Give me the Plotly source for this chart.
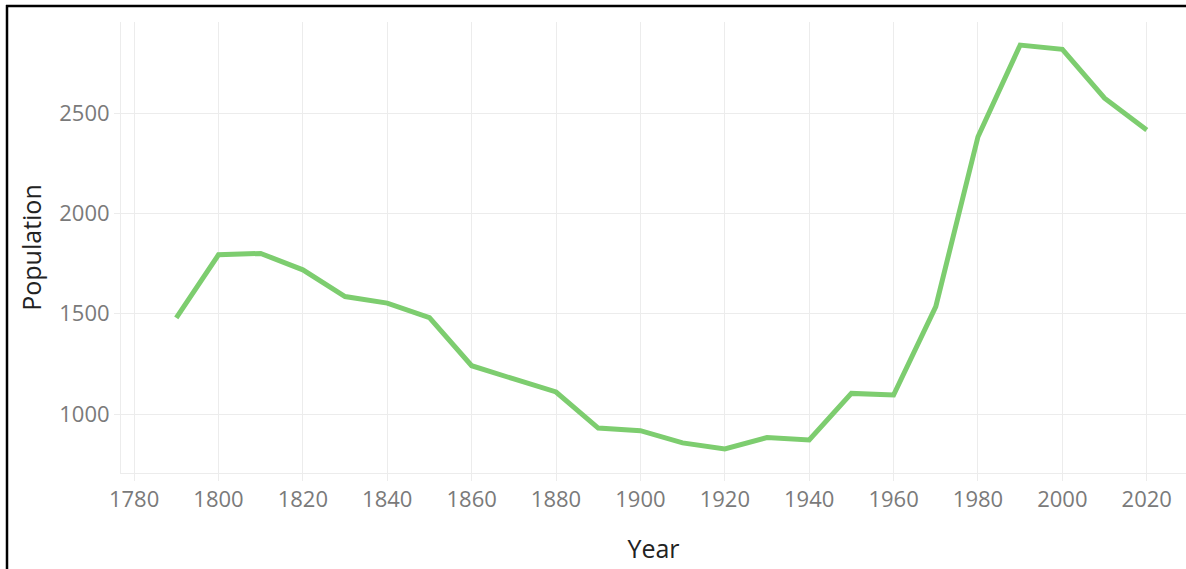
import plotly.graph_objects as go

years = [1790, 1800, 1810, 1820, 1830, 1840, 1850, 1860, 1870, 1880, 1890, 1900,
         1910, 1920, 1930, 1940, 1950, 1960, 1970, 1980, 1990, 2000, 2010, 2020]
population = [1480, 1794, 1801, 1719, 1586, 1553, 1481, 1241, 1175, 1110, 930, 917,
              856, 826, 883, 871, 1103, 1095, 1536, 2383, 2840, 2819, 2575, 2417]
x_ticks = [1780, 1800, 1820, 1840, 1860, 1880, 1900, 1920, 1940, 1960, 1980, 2000, 2020]
y_ticks = [1000, 1500, 2000, 2500]
title_text = "population (1790 – 2020)"

W, H = 1186, 569
L, R, T, B = 121, 0, 22, 96
pw, ph = W - L - R, H - T - B


def px(x):
    return (x - L) / pw


def py(y):
    return (H - B - y) / ph


grid = "#ececec"
fig = go.Figure(go.Scatter(x=years, y=population, mode="lines",
                           line=dict(color="#7dcd6f", width=5), hoverinfo="x+y"))

fig.update_layout(
    width=W, height=H,
    margin=dict(l=L, r=R, t=T, b=B),
    paper_bgcolor="white", plot_bgcolor="white",
    showlegend=False,
    font=dict(family="Open Sans", color="#333"),
    xaxis=dict(range=[1776.9, 2029.3], tickvals=x_ticks, showgrid=True, gridcolor=grid,
               gridwidth=1, showline=True, linecolor=grid, linewidth=1, ticks="outside",
               ticklen=7, tickcolor=grid, zeroline=False,
               tickfont=dict(family="Open Sans", size=22, color="#7a7a7a"),
               title=dict(text="Year", font=dict(family="Open Sans", size=25, color="#222"),
                          standoff=28)),
    yaxis=dict(range=[706, 2955], tickvals=y_ticks, showgrid=True, gridcolor=grid,
               gridwidth=1, showline=True, linecolor=grid, linewidth=1, ticks="outside",
               ticklen=6, tickcolor=grid, zeroline=False,
               tickfont=dict(family="Open Sans", size=22, color="#7a7a7a"),
               title=dict(text="Population", font=dict(family="Open Sans", size=25, color="#222"),
                          standoff=10)),
    shapes=[
        dict(type="line", xref="paper", yref="paper", x0=px(6), x1=px(W + 2), y0=py(6), y1=py(6),
             line=dict(color="black", width=2.5)),
        dict(type="line", xref="paper", yref="paper", x0=px(7), x1=px(7), y0=py(5), y1=py(H + 2),
             line=dict(color="black", width=2.5)),
    ],
    annotations=[
        dict(text="<b>" + title_text + "</b>", xref="paper", yref="paper",
             x=px(629), y=py(-13.5), xanchor="left", yanchor="middle", showarrow=False,
             font=dict(family="Liberation Serif", size=24, color="black")),
    ],
)

fig.write_html(
    "out.html",
    config={"displayModeBar": False},
    post_script="document.body.style.margin='0px';document.body.style.padding='0px';"
                "document.documentElement.style.overflow='hidden';",
)
